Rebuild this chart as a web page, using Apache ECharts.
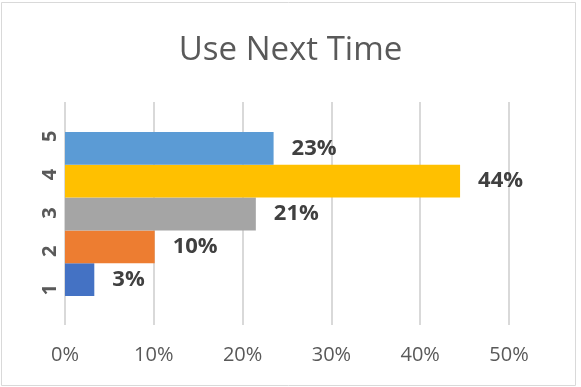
<!DOCTYPE html>
<html><head><meta charset="utf-8">
<script src="https://cdn.jsdelivr.net/npm/echarts@6/dist/echarts.min.js"></script>
<style>html,body{margin:0;padding:0;background:#fff}#c{width:581px;height:387px}</style>
</head><body><div id="c"></div>
<script>
const chartTitle = 'Use Next Time';
const categories = ['1', '2', '3', '4', '5'];
const values = [0.033, 0.101, 0.2149, 0.4449, 0.2349];
const barColors = ['#4472C4', '#ED7D31', '#A5A5A5', '#FFC000', '#5B9BD5'];
const xMin = 0, xMax = 0.5, xStep = 0.1;

const pct = v => Math.round(v * 100) + '%';
const FONT = '"Open Sans", "Noto Sans", sans-serif';

const chart = echarts.init(document.getElementById('c'), null, {renderer: 'canvas'});
chart.setOption({
  animation: false,
  backgroundColor: '#fff',
  title: {
    text: chartTitle, left: 'center', top: 29,
    textStyle: {fontFamily: FONT, fontSize: 33, fontWeight: 'normal', color: '#595959'}
  },
  graphic: [{
    type: 'rect', shape: {x: 1.5, y: 2.5, width: 574, height: 383},
    style: {fill: 'none', stroke: '#D9D9D9', lineWidth: 1}, silent: true
  }],
  grid: [
    {left: 65, right: 72, top: 102, bottom: 62},
    {left: 65, right: 72, top: 132, bottom: 91},
    {left: 65, right: 72, top: 117, bottom: 78}
  ],
  xAxis: [
    {gridIndex: 0, type: 'value', min: xMin, max: xMax, interval: xStep,
     axisLine: {show: false}, axisTick: {show: false},
     splitLine: {show: true, lineStyle: {color: '#D9D9D9', width: 2}},
     axisLabel: {formatter: pct, fontFamily: FONT, fontSize: 20, color: '#595959', margin: 20}},
    {gridIndex: 1, type: 'value', min: xMin, max: xMax, show: false},
    {gridIndex: 2, type: 'value', min: xMin, max: xMax, show: false}
  ],
  yAxis: [
    {gridIndex: 0, type: 'value', show: false},
    {gridIndex: 1, type: 'category', data: categories, show: false},
    {gridIndex: 2, type: 'category', data: categories,
     axisLine: {show: false}, axisTick: {show: false}, splitLine: {show: false},
     axisLabel: {rotate: 90, margin: 5, fontFamily: FONT, fontSize: 20, fontWeight: 'bold', color: '#595959'}}
  ],
  series: [{
    type: 'bar', xAxisIndex: 1, yAxisIndex: 1,
    barCategoryGap: '0%',
    data: values.map((v, i) => ({value: v, itemStyle: {color: barColors[i]}})),
    label: {show: true, position: 'right', distance: 18, formatter: p => pct(p.value),
      fontFamily: FONT, fontSize: 22, fontWeight: 'bold', color: '#404040'}
  }]
});
</script></body></html>
